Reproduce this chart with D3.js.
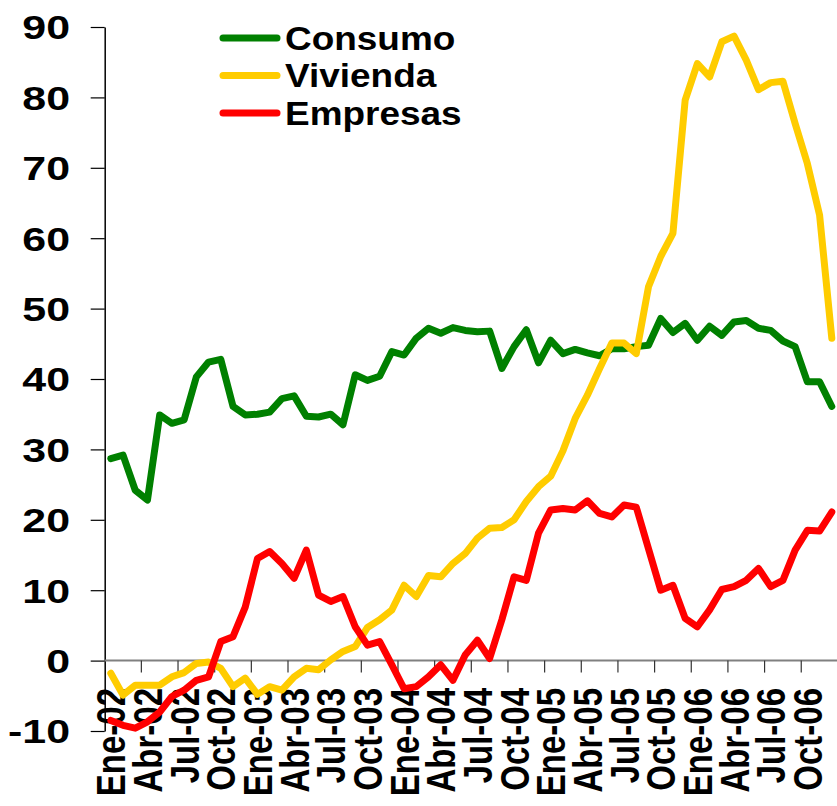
<!DOCTYPE html>
<html>
<head>
<meta charset="utf-8">
<script src="https://cdnjs.cloudflare.com/ajax/libs/d3/7.8.5/d3.min.js"></script>
<style>
  body { margin: 0; background: #fff; }
  text { font-family: "Liberation Sans", Arial, sans-serif; font-weight: bold; fill: #000; }
</style>
</head>
<body>
<div id="chart"></div>
<script>
// Data
const months = ['Ene','Feb','Mar','Abr','May','Jun','Jul','Ago','Sep','Oct','Nov','Dic']
const years = ['02','03','04','05','06']
const categories = years.flatMap(yr => months.map(m => `${m}-${yr}`))
const tickLabels = ['Ene-02','Abr-02','Jul-02','Oct-02','Ene-03','Abr-03','Jul-03','Oct-03',
  'Ene-04','Abr-04','Jul-04','Oct-04','Ene-05','Abr-05','Jul-05','Oct-05',
  'Ene-06','Abr-06','Jul-06','Oct-06']
const yTicks = [-10, 0, 10, 20, 30, 40, 50, 60, 70, 80, 90]

const consumo = [28.7, 29.2, 24.2, 22.8, 34.9, 33.7, 34.2, 40.3, 42.4, 42.8,
  36.1, 34.9, 35.0, 35.3, 37.2, 37.6, 34.7, 34.6, 35.0, 33.5,
  40.6, 39.8, 40.4, 43.9, 43.4, 45.8, 47.2, 46.5, 47.3, 46.9,
  46.7, 46.8, 41.5, 44.6, 47.0, 42.3, 45.5, 43.6, 44.2, 43.7,
  43.3, 44.3, 44.3, 44.6, 44.8, 48.6, 46.6, 47.9, 45.5, 47.5,
  46.2, 48.1, 48.3, 47.2, 46.9, 45.4, 44.6, 39.6, 39.6, 36.1]
const vivienda = [-1.8, -4.9, -3.5, -3.5, -3.5, -2.3, -1.7, -0.4, -0.2, -1.1,
  -3.7, -2.5, -4.8, -3.7, -4.2, -2.3, -1.1, -1.3, 0.1, 1.3,
  2.0, 4.7, 5.8, 7.2, 10.7, 9.1, 12.1, 11.9, 13.8, 15.2,
  17.4, 18.8, 18.9, 20.0, 22.6, 24.7, 26.2, 29.8, 34.4, 37.7,
  41.5, 45.1, 45.1, 43.6, 53.1, 57.4, 60.7, 79.6, 84.8, 82.9,
  87.9, 88.7, 85.3, 81.1, 82.1, 82.3, 76.3, 70.6, 63.3, 45.8]
const empresas = [-8.5, -9.2, -9.6, -8.7, -7.3, -5.1, -4.2, -2.8, -2.3, 2.7,
  3.4, 7.6, 14.5, 15.5, 13.8, 11.7, 15.7, 9.3, 8.4, 9.1,
  4.8, 2.2, 2.7, -0.6, -4.0, -3.7, -2.3, -0.6, -2.8, 0.8,
  2.9, 0.3, 5.8, 11.9, 11.4, 18.1, 21.4, 21.6, 21.4, 22.7,
  20.9, 20.4, 22.1, 21.8, 15.9, 10.0, 10.7, 6.0, 4.8, 7.2,
  10.1, 10.5, 11.4, 13.1, 10.5, 11.4, 15.7, 18.5, 18.4, 21.1]

const series = [
  { name: 'Consumo', values: consumo, color: '#008000' },
  { name: 'Vivienda', values: vivienda, color: '#FFCC00' },
  { name: 'Empresas', values: empresas, color: '#FF0000' }
]

;(({ width, height, plot: { left, right, top, bottom }, fontSize }) => {
  const svg = d3.select('#chart')
    .append('svg')
    .attr('width', width)
    .attr('height', height)

  const x = d3.scaleBand()
    .domain(categories)
    .range([left, right])
  const y = d3.scaleLinear()
    .domain([-10, 90])
    .range([bottom, top])

  // Y axis (plain hyphen for negatives, like the source)
  const yAxis = svg.append('g')
    .attr('transform', `translate(${left},0)`)
    .call(d3.axisLeft(y).tickValues(yTicks).tickSize(14).tickSizeOuter(0).tickFormat(d => String(d)))
  yAxis.select('.domain').attr('stroke', '#000').attr('stroke-width', 1.5)
  yAxis.selectAll('.tick line').attr('stroke', '#000').attr('stroke-width', 1.2)
  yAxis.selectAll('.tick text')
    .attr('x', null)
    .attr('dy', '0.36em')
    .attr('font-size', fontSize)
    .attr('text-anchor', 'end')
    .attr('transform', `translate(${70 - left},0) scale(1.3,1)`)

  // X axis on zero line
  const xAxis = svg.append('g')
    .attr('transform', `translate(0,${y(0)})`)
  xAxis.append('line')
    .attr('x1', left).attr('x2', right)
    .attr('stroke', '#808080').attr('stroke-width', 2)
  xAxis.selectAll('line.tick')
    .data(tickLabels.slice(1))
    .enter()
    .append('line')
    .attr('class', 'tick')
    .attr('x1', d => x(d)).attr('x2', d => x(d))
    .attr('y1', 0).attr('y2', 12)
    .attr('stroke', '#333').attr('stroke-width', 1.2)

  // X tick labels
  svg.append('g')
    .selectAll('text')
    .data(tickLabels)
    .enter()
    .append('text')
    .attr('font-size', fontSize)
    .attr('text-anchor', 'end')
    .attr('dy', '0.36em')
    .attr('transform', d => `translate(${x(d) + x.bandwidth() / 2},688) scale(1.22,1) rotate(-90)`)
    .text(d => d)

  // Lines
  const line = d3.line()
    .x((d, i) => x(categories[i]) + x.bandwidth() / 2)
    .y(d => y(d))
  svg.append('g')
    .selectAll('path')
    .data(series)
    .enter()
    .append('path')
    .attr('d', s => line(s.values))
    .attr('fill', 'none')
    .attr('stroke', s => s.color)
    .attr('stroke-width', 7)
    .attr('stroke-linejoin', 'round')
    .attr('stroke-linecap', 'round')

  // Legend
  const legend = svg.append('g')
    .selectAll('g')
    .data(series)
    .enter()
    .append('g')
    .attr('transform', (s, i) => `translate(223,${38 + i * 37.5})`)
  legend.append('line')
    .attr('x1', 0).attr('x2', 54)
    .attr('stroke', s => s.color)
    .attr('stroke-width', 7)
    .attr('stroke-linecap', 'round')
  legend.append('text')
    .attr('font-size', fontSize)
    .attr('dy', '0.36em')
    .attr('transform', 'translate(62,0) scale(1.12,1)')
    .text(s => s.name)
})({
  width: 837,
  height: 806,
  plot: { left: 104.7, right: 837.9, top: 27, bottom: 731 },
  fontSize: 33
})
</script>
</body>
</html>
